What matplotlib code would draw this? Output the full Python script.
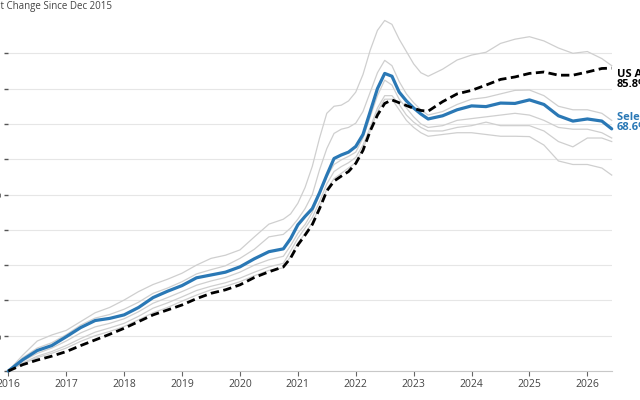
import matplotlib
matplotlib.use("Agg")
import matplotlib.pyplot as plt
import numpy as np

plt.rcParams["font.family"] = ["Open Sans", "DejaVu Sans"]

# quarterly points, denser through the 2021-2022 run-up, Dec 2015 -> mid 2026
years = (list(np.arange(2016, 2020.6, 0.25))
         + list(np.arange(2020.75, 2023.3, 0.125))
         + list(np.arange(2023.5, 2026.3, 0.25))
         + [2026.42])

us_avg = [0, 1.8, 3.1, 4.2, 5.5, 7.2, 8.8, 10.4, 12.1, 14.0, 15.9, 17.3,
          18.7, 20.5, 22.0, 23.0, 24.4, 26.5, 28.1,
          29.5, 32.0, 35.7, 38.5, 41.5, 46.0, 51.0, 53.8, 55.2, 56.5, 58.8,
          62.5, 68.0, 72.5, 75.8, 76.8, 76.0, 75.2, 74.4, 73.8, 73.6,
          76.3, 78.5, 79.5, 81.0, 82.6, 83.3, 84.3, 84.7, 83.8, 83.8, 84.7, 85.7,
          85.8]
selected = [0, 3.2, 5.8, 7.2, 9.7, 12.3, 14.3, 14.9, 15.9, 18.0, 20.8, 22.6,
            24.2, 26.4, 27.2, 28.0, 29.5, 31.8, 33.8,
            34.6, 37.5, 41.4, 43.8, 46.0, 50.5, 55.5, 60.2, 61.2, 62.0, 63.6,
            67.0, 73.5, 80.0, 84.3, 83.5, 79.0, 76.5, 74.5, 72.8, 71.4,
            72.3, 74.0, 75.1, 74.9, 75.9, 75.8, 76.8, 75.5, 72.3, 70.8, 71.4, 70.8,
            68.6]

others = [
    [0, 4.5, 8.5, 10.2, 11.5, 14.0, 16.5, 18.0, 20.1, 22.5, 24.5, 26.0,
     27.7, 30.0, 31.9, 32.8, 34.3, 38.0, 41.6,
     43.0, 44.5, 47.5, 52.0, 58.0, 66.0, 73.0, 75.0, 75.3, 76.5, 79.0,
     84.0, 90.9, 96.5, 99.3, 98.2, 94.0, 90.5, 87.0, 84.5, 83.5,
     85.5, 88.1, 89.5, 90.3, 92.8, 94.0, 94.7, 93.5, 91.5, 90.0, 90.5, 88.5,
     86.5],
    [0, 3.8, 6.5, 8.0, 10.3, 13.0, 15.0, 16.0, 17.5, 19.5, 22.0, 23.5,
     25.3, 27.5, 28.7, 29.8, 31.9, 34.5, 38.0,
     38.7, 40.5, 43.0, 46.0, 50.0, 57.0, 63.0, 67.3, 68.5, 69.0, 70.2,
     73.5, 79.0, 84.5, 88.0, 86.5, 82.0, 78.5, 76.0, 74.0, 72.5,
     73.5, 75.5, 77.0, 77.5, 78.5, 79.5, 79.6, 78.0, 75.0, 74.0, 74.0, 73.0,
     71.0],
    [0, 2.8, 5.0, 6.5, 8.5, 10.8, 12.5, 13.5, 14.8, 16.8, 19.2, 20.8,
     22.5, 24.3, 25.5, 26.5, 28.0, 30.0, 31.5,
     32.5, 35.5, 39.0, 41.5, 45.0, 50.0, 55.0, 58.5, 59.8, 60.8, 62.0,
     66.0, 72.0, 78.0, 82.4, 81.0, 77.0, 74.5, 72.0, 70.0, 69.0,
     69.5, 71.0, 71.5, 72.0, 72.5, 73.0, 72.5, 71.0, 69.0, 68.5, 68.5, 67.5,
     66.0],
    [0, 2.3, 4.2, 5.5, 7.2, 9.2, 11.0, 12.2, 13.5, 15.5, 17.8, 19.3,
     21.0, 22.8, 24.0, 25.0, 26.3, 28.0, 29.5,
     30.5, 34.0, 37.6, 40.5, 43.5, 48.0, 53.0, 56.5, 57.9, 59.0, 60.5,
     64.0, 69.0, 74.5, 78.0, 78.0, 75.5, 72.5, 70.5, 69.0, 68.0,
     68.0, 69.0, 69.5, 70.5, 69.5, 69.5, 69.5, 68.0, 65.0, 63.5, 66.0, 66.0,
     65.0],
    [0, 2.0, 3.8, 5.0, 6.5, 8.4, 10.0, 11.2, 12.6, 14.5, 16.5, 18.0,
     19.8, 21.5, 23.0, 24.0, 25.3, 27.0, 28.5,
     29.2, 32.5, 36.2, 39.0, 42.0, 46.5, 51.5, 54.5, 56.0, 57.5, 59.0,
     63.0, 68.0, 73.5, 77.0, 77.0, 74.0, 71.0, 69.0, 67.5, 66.5,
     67.0, 67.5, 67.5, 67.0, 66.5, 66.5, 66.4, 64.0, 59.5, 58.5, 58.5, 57.5,
     55.5],
]

year_ticks = list(range(2016, 2027))
pct_ticks = list(range(0, 100, 10))

fig = plt.figure(figsize=(6.4, 4.0), dpi=100)
ax = fig.add_axes([8.3 / 640, 29 / 400, 603.4 / 640, 353 / 400])

for s in others:
    ax.plot(years, s, color="#cfcfcf", lw=0.9, clip_on=False, zorder=2,
            solid_joinstyle="round")
ax.plot(years, selected, color="#2a78b5", lw=2.3, clip_on=False, zorder=4,
        solid_capstyle="round", solid_joinstyle="round")
ax.plot(years, us_avg, color="black", lw=2.0, ls=(0, (3, 1.6)), clip_on=False,
        zorder=5, dash_joinstyle="round")

ax.set_xlim(2016, 2026.42)
ax.set_ylim(0, 100)
ax.set_xticks(year_ticks)
ax.set_xticklabels([str(y) for y in year_ticks])
ax.set_yticks(pct_ticks)
ax.set_yticklabels([f"{p}%" for p in pct_ticks])
ax.grid(axis="y", color="#e6e6e6", lw=0.8, zorder=0)
ax.set_axisbelow(True)
for side in ["top", "right", "left"]:
    ax.spines[side].set_visible(False)
ax.spines["bottom"].set_color("#c8c8c8")
ax.tick_params(axis="x", length=3.5, width=0.8, color="#666666",
               labelsize=7.5, labelcolor="#444444", pad=2)
ax.tick_params(axis="y", length=3, width=1.0, color="#555555",
               labelsize=7.5, labelcolor="#444444", pad=2)

# end labels
lab = dict(textcoords="offset pixels", fontsize=8, fontweight="bold",
           va="center", annotation_clip=False)
ax.annotate("US Average", xy=(years[-1], us_avg[-1]), xytext=(5, -6),
            color="black", **lab)
ax.annotate(f"{us_avg[-1]:.1f}%", xy=(years[-1], us_avg[-1]), xytext=(5, -16),
            color="black", **lab)
ax.annotate("Selected Metro", xy=(years[-1], selected[-1]), xytext=(5, 11),
            color="#2a78b5", **lab)
ax.annotate(f"{selected[-1]:.1f}%", xy=(years[-1], selected[-1]), xytext=(5, 1),
            color="#2a78b5", **lab)

fig.text(111.7 / 640, 1 - 6 / 400, "Percent Change Since Dec 2015",
         ha="right", va="center", fontsize=7, color="#444444")

fig.savefig("out.png", dpi=100)
